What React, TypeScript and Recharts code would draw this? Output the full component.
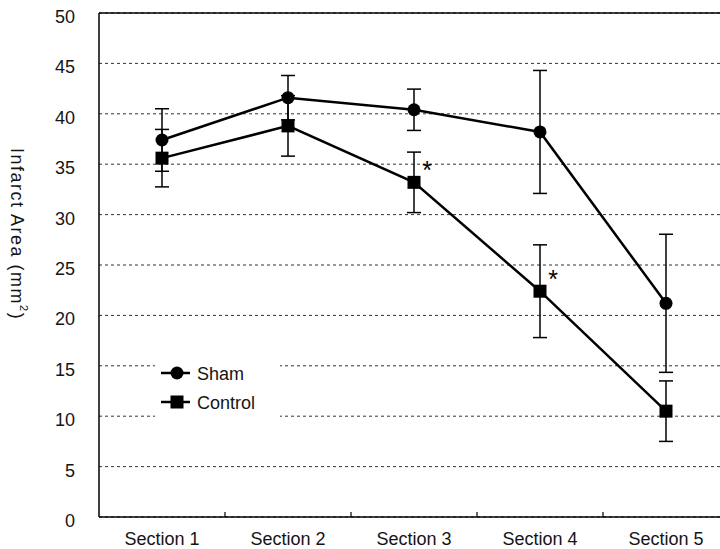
import React from 'react';
import {
  LineChart,
  Line,
  XAxis,
  YAxis,
  CartesianGrid,
  ErrorBar,
  ReferenceLine,
  LabelList,
} from 'recharts';

const categories = ['Section 1', 'Section 2', 'Section 3', 'Section 4', 'Section 5'];
const shamMean = [37.4, 41.6, 40.4, 38.2, 21.2];
const shamErr = [3.1, 2.2, 2.05, 6.1, 6.85];
const controlMean = [35.6, 38.8, 33.2, 22.4, 10.5];
const controlErr = [2.85, 3.0, 3.0, 4.6, 3.0];
const significance = ['', '', '*', '*', ''];
const yTicks = [0, 5, 10, 15, 20, 25, 30, 35, 40, 45, 50];
const seriesNames = ['Sham', 'Control'];

const data = categories.map((name, i) => ({
  name,
  sham: shamMean[i],
  shamErr: shamErr[i],
  control: controlMean[i],
  controlErr: controlErr[i],
  sig: significance[i],
}));

const FONT = '"Liberation Sans", Arial, Helvetica, sans-serif';
const TEXT = '#151515';

const CircleDot = (props: any) => {
  const { cx, cy, index } = props;
  if (cx == null || cy == null) return <g key={`c-${index}`} />;
  return <circle key={`c-${index}`} cx={cx} cy={cy} r={6.5} fill="#000" />;
};

const SquareDot = (props: any) => {
  const { cx, cy, index } = props;
  if (cx == null || cy == null) return <g key={`s-${index}`} />;
  return <rect key={`s-${index}`} x={cx - 6.5} y={cy - 6.5} width={13} height={13} fill="#000" />;
};

const YTick = (props: any) => {
  const { x, y, payload } = props;
  return (
    <text x={x} y={y + 4} textAnchor="end" dominantBaseline="central" fontSize={18} fill={TEXT} fontFamily={FONT}>
      {payload.value}
    </text>
  );
};

const XTick = (props: any) => {
  const { x, y, payload, index } = props;
  const half = payload && typeof payload.offset === 'number' ? payload.offset : 0;
  return (
    <g>
      {index > 0 && half > 0 ? (
        <line x1={x - half} y1={y} x2={x - half} y2={y - 5} stroke="#000" strokeWidth={1.2} />
      ) : null}
      <text x={x} y={y + 28} textAnchor="middle" fontSize={18} fill={TEXT} fontFamily={FONT}>
        {payload.value}
      </text>
    </g>
  );
};

const StarLabel = (props: any) => {
  const { x, y, value, index } = props;
  if (!value) return null;
  return (
    <text key={`star-${index}`} x={x + 13} y={y - 3} textAnchor="middle" fontSize={25} fill="#000" fontFamily={FONT}>
      {value}
    </text>
  );
};

function LegendBox() {
  return (
    <svg width={125} height={85} style={{ position: 'absolute', left: 155, top: 345, display: 'block' }}>
      <rect x={0} y={0} width={125} height={85} fill="#fff" />
      {seriesNames.map((name, i) => {
        const cy = 28 + i * 29;
        return (
          <g key={name}>
            <line x1={6} y1={cy} x2={35} y2={cy} stroke="#000" strokeWidth={2.5} />
            {i === 0 ? (
              <circle cx={22} cy={cy} r={6.5} fill="#000" />
            ) : (
              <rect x={15.5} y={cy - 6.5} width={13} height={13} fill="#000" />
            )}
            <text x={42} y={cy + 6.5} fontSize={18} fill={TEXT} fontFamily={FONT}>
              {name}
            </text>
          </g>
        );
      })}
    </svg>
  );
}

export default function App() {
  return (
    <div style={{ position: 'absolute', left: 0, top: 0, width: 720, height: 549, overflow: 'hidden', background: '#fff' }}>
      <LineChart
        width={740}
        height={549}
        data={data}
        margin={{ top: 13, right: 11, bottom: 0, left: 39 }}
      >
        <CartesianGrid horizontal vertical={false} stroke="#333" strokeDasharray="3 3" strokeWidth={1} />
        <XAxis
          dataKey="name"
          type="category"
          scale="band"
          height={32}
          tickSize={0}
          tickMargin={0}
          tickLine={false}
          axisLine={{ stroke: '#000', strokeWidth: 1.5 }}
          tick={<XTick />}
          interval={0}
        />
        <YAxis
          domain={[0, 50]}
          ticks={yTicks}
          interval={0}
          width={60}
          tickSize={0}
          tickMargin={24}
          tickLine={false}
          axisLine={{ stroke: '#000', strokeWidth: 1.5 }}
          tick={<YTick />}
        />
        <ReferenceLine y={50} stroke="#000" strokeWidth={1.5} />
        <Line
          type="linear"
          dataKey="sham"
          name={seriesNames[0]}
          stroke="#000"
          strokeWidth={2.5}
          dot={CircleDot}
          activeDot={false}
          isAnimationActive={false}
        >
          <ErrorBar dataKey="shamErr" width={7} stroke="#000" strokeWidth={1.5} direction="y" />
        </Line>
        <Line
          type="linear"
          dataKey="control"
          name={seriesNames[1]}
          stroke="#000"
          strokeWidth={2.5}
          dot={SquareDot}
          activeDot={false}
          isAnimationActive={false}
        >
          <ErrorBar dataKey="controlErr" width={7} stroke="#000" strokeWidth={1.5} direction="y" />
          <LabelList dataKey="sig" content={<StarLabel />} />
        </Line>
      </LineChart>
      <LegendBox />
      <svg width={40} height={549} style={{ position: 'absolute', left: 0, top: 0 }}>
        <text
          transform="translate(11,148) rotate(90)"
          fontSize={18}
          letterSpacing={1.5}
          fill={TEXT}
          fontFamily={FONT}
        >
          Infarct Area (mm
          <tspan dy={-9} fontSize={11}>2</tspan>
          <tspan dy={9}>)</tspan>
        </text>
      </svg>
    </div>
  );
}
